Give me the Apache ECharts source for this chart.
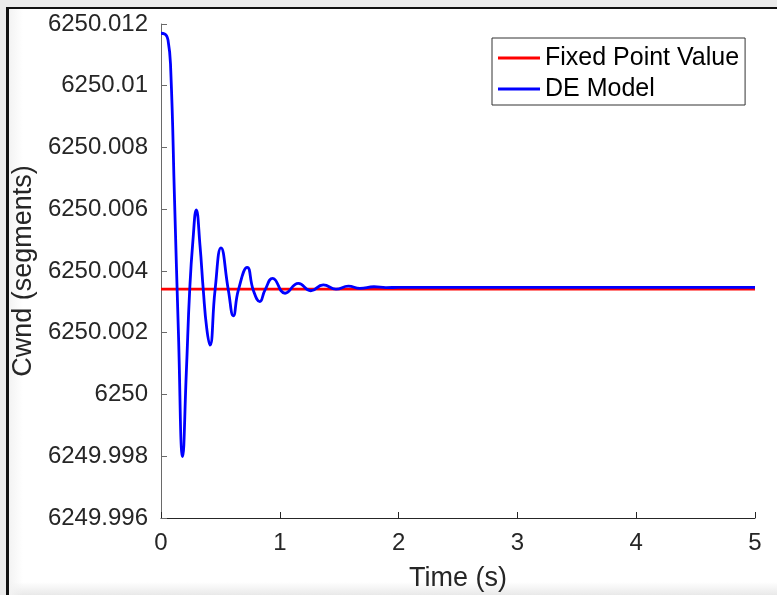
<!DOCTYPE html>
<html style="height: 100%">
<head>
  <meta charset="utf-8">
  <title>Cwnd</title>
</head>
<body style="height: 100%; margin: 0; background: #ebebeb; overflow: hidden">
<div id="frame" style="position: absolute; left: 6px; top: 7px; width: 800px; height: 600px; background: #fff; border-left: 3px solid #111; border-top: 2px solid #111"></div>
<div style="position: absolute; left: 9px; top: 582px; width: 800px; height: 13px; background: linear-gradient(#fff, #e9e9e9)"></div>
<div style="position: absolute; left: 9px; top: 9px; width: 14px; height: 586px; background: linear-gradient(to right, #f3f3f3, rgba(255,255,255,0))"></div>
<div id="container" style="position: absolute; left: 0; top: 0; width: 777px; height: 595px"></div>
<script src="https://cdn.jsdelivr.net/npm/echarts@6/dist/echarts.min.js"></script>
<script>
  // time (s) and cwnd values
  var timeS = [0, 0.031, 0.059, 0.082, 0.114, 0.146, 0.182, 0.213, 0.242, 0.269,
    0.297, 0.328, 0.356, 0.385, 0.412, 0.455, 0.505, 0.567, 0.609, 0.651,
    0.726, 0.777, 0.832, 0.875, 0.940, 1.044, 1.156, 1.260, 1.366, 1.473,
    1.577, 1.675, 1.793, 1.894, 2.0, 3.0, 4.0, 5.0];
  var deModel = [6250.01170, 6250.01168, 6250.01148, 6250.01051, 6250.00630, 6250.00209, 6249.99799, 6250.00070, 6250.00342, 6250.00500,
    6250.00598, 6250.00484, 6250.00338, 6250.00214, 6250.00160, 6250.00338, 6250.00475, 6250.00338, 6250.00255, 6250.00338,
    6250.00412, 6250.00338, 6250.00301, 6250.00338, 6250.00376, 6250.00328, 6250.00360, 6250.00336, 6250.00355, 6250.00341,
    6250.00351, 6250.00344, 6250.00349, 6250.00346, 6250.00347, 6250.00347, 6250.00347, 6250.00347];
  var fixedTime = [0, 5];
  var fixedPoint = [6250.00341, 6250.00341];

  var font = '"Liberation Sans", Arial, sans-serif';
  var dom = document.getElementById('container');
  var myChart = echarts.init(dom);

  var option = {
    animation: false,
    textStyle: { fontFamily: font },
    grid: { left: 161, right: 22, top: 24, bottom: 77, outerBoundsMode: 'none' },
    legend: {
      orient: 'vertical',
      left: 492,
      top: 38,
      padding: [7.5, 6, 3.5, 6],
      itemGap: 6,
      itemWidth: 42,
      itemHeight: 3,
      icon: 'rect',
      borderColor: '#333',
      borderWidth: 1,
      backgroundColor: '#fff',
      textStyle: { fontSize: 25, color: '#000', fontFamily: font, lineHeight: 25 },
      data: ['Fixed Point Value', 'DE Model']
    },
    xAxis: {
      type: 'value',
      min: 0, max: 5, interval: 1,
      name: 'Time (s)',
      nameLocation: 'middle',
      nameGap: 47,
      nameTextStyle: { fontSize: 27, color: '#262626', fontFamily: font },
      axisLine: { lineStyle: { color: '#262626', width: 1 } },
      axisTick: { inside: true, length: 6, lineStyle: { color: '#262626' } },
      axisLabel: { fontSize: 24, color: '#262626', margin: 13, fontFamily: font },
      splitLine: { show: false }
    },
    yAxis: {
      type: 'value',
      min: 6249.996, max: 6250.012, interval: 0.002,
      name: 'Cwnd (segments)',
      nameLocation: 'middle',
      nameGap: 112,
      nameTextStyle: { fontSize: 27, color: '#262626', fontFamily: font },
      axisLine: { show: true, lineStyle: { color: '#6a6a6a', width: 1 } },
      axisTick: { show: true, inside: true, length: 6, lineStyle: { color: '#6a6a6a' } },
      axisLabel: {
        fontSize: 24, color: '#262626', margin: 13, fontFamily: font,
        formatter: function (v) { return String(parseFloat(v.toFixed(3))); }
      },
      splitLine: { show: false }
    },
    series: [
      {
        name: 'Fixed Point Value',
        type: 'line',
        symbol: 'none',
        lineStyle: { color: '#ff0000', width: 2.8 },
        itemStyle: { color: '#ff0000' },
        data: fixedTime.map(function (t, i) { return [t, fixedPoint[i]]; })
      },
      {
        name: 'DE Model',
        type: 'line',
        symbol: 'none',
        smooth: 0.5,
        lineStyle: { color: '#0000ff', width: 2.8 },
        itemStyle: { color: '#0000ff' },
        data: timeS.map(function (t, i) { return [t, deModel[i]]; })
      }
    ]
  };

  myChart.setOption(option);
</script>
</body>
</html>
